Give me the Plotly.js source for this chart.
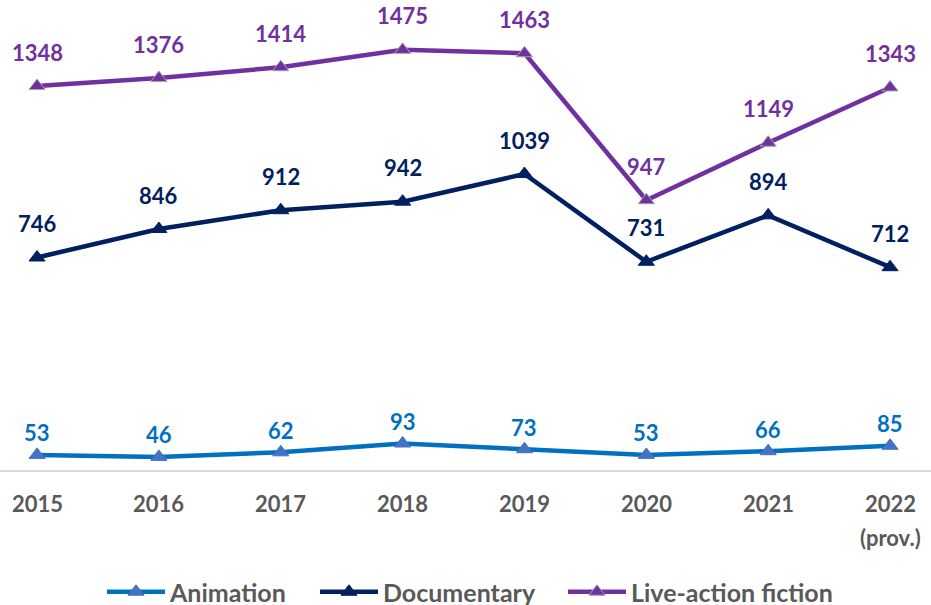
<!DOCTYPE html>
<html>
<head>
<meta charset="utf-8">
<script src="https://cdn.plot.ly/plotly-3.0.1.min.js"></script>
<style>html,body{margin:0;padding:0;background:#fff;} #chart{width:931px;height:605px;}</style>
</head>
<body>
<div id="chart"></div>
<script>
const categories = ['2015', '2016', '2017', '2018', '2019', '2020', '2021', '2022 (prov.)'];
const tickLines = [['2015'], ['2016'], ['2017'], ['2018'], ['2019'], ['2020'], ['2021'], ['2022', '(prov.)']];
const animation = [53, 46, 62, 93, 73, 53, 66, 85];
const documentary = [746, 846, 912, 942, 1039, 731, 894, 712];
const liveAction = [1348, 1376, 1414, 1475, 1463, 947, 1149, 1343];

const FONT = 'Lato, Carlito, "Open Sans", sans-serif';
const GREY = '#595959';

const series = [
  {name: 'Animation', y: animation, line: '#0070C0', marker: '#4472C4', mline: '#4472C4', label: '#0070C0', shift: 22, legend: 'legend', lx: 109},
  {name: 'Documentary', y: documentary, line: '#002060', marker: '#002060', mline: '#002060', label: '#002060', shift: 34, legend: 'legend2', lx: 322},
  {name: 'Live-action fiction', y: liveAction, line: '#7030A0', marker: '#7030A0', mline: '#A5A5A5', label: '#7030A0', shift: 34, legend: 'legend3', lx: 570}
];

const traces = series.map(s => ({
  type: 'scatter',
  mode: 'lines+markers',
  name: s.name,
  legend: s.legend,
  x: categories,
  y: s.y,
  line: {color: s.line, width: 4.5},
  marker: {symbol: 'triangle-up', size: 14, color: s.marker, line: {color: s.mline, width: 1}},
  cliponaxis: false,
  hoverinfo: 'skip'
}));

const annotations = [];
series.forEach(s => {
  s.y.forEach((v, i) => {
    annotations.push({
      x: i, y: v, xref: 'x', yref: 'y',
      text: String(v), showarrow: false,
      yshift: s.shift, xanchor: 'center', yanchor: 'middle',
      font: {family: FONT, size: 22, color: s.label, weight: 'bold'}
    });
  });
});
tickLines.forEach((lines, i) => {
  lines.forEach((t, k) => {
    annotations.push({
      x: i, y: 0, xref: 'x', yref: 'y',
      text: t, showarrow: false,
      yshift: -33 - 34 * k, xanchor: 'center', yanchor: 'middle',
      font: {family: FONT, size: 22, color: GREY, weight: 'bold'}
    });
  });
});

const layout = {
  width: 931, height: 605,
  margin: {l: 0, r: 0, t: 0, b: 135},
  paper_bgcolor: '#ffffff', plot_bgcolor: '#ffffff',
  showlegend: true,
  xaxis: {
    type: 'category', range: [-0.304, 7.336], automargin: false,
    showgrid: false, zeroline: false,
    showline: true, linecolor: '#D9D9D9', linewidth: 2,
    ticks: '', showticklabels: false,
    fixedrange: true
  },
  yaxis: {
    range: [0, 1650], showgrid: false, zeroline: false, showline: false,
    showticklabels: false, ticks: '', fixedrange: true, automargin: false
  },
  annotations: annotations
};
series.forEach(s => {
  layout[s.legend] = {
    orientation: 'h', xref: 'paper', x: (s.lx - 7) / 931, xanchor: 'left',
    yref: 'container', y: 13 / 605, yanchor: 'middle',
    font: {family: FONT, size: 25, color: GREY, weight: 'bold'},
    itemwidth: 58, bgcolor: 'rgba(0,0,0,0)'
  };
});

Plotly.newPlot('chart', traces, layout, {displayModeBar: false, staticPlot: true});
</script>
</body>
</html>
